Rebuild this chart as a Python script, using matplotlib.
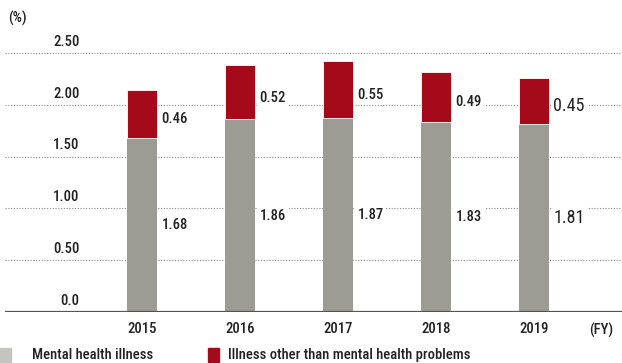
import matplotlib
matplotlib.use("Agg")
from matplotlib import pyplot as plt
from matplotlib.patches import Rectangle

years = ["2015", "2016", "2017", "2018", "2019"]
mental = [1.68, 1.86, 1.87, 1.83, 1.81]
other = [0.46, 0.52, 0.55, 0.49, 0.45]
yticks = [0.0, 0.5, 1.0, 1.5, 2.0, 2.5]
ytick_labels = ["0.0", "0.50", "1.00", "1.50", "2.00", "2.50"]

GRAY = "#9c9c95"
RED = "#a50a1b"
TXT = "#222222"

plt.rcParams['font.family'] = ['Roboto Condensed', 'DejaVu Sans Condensed',
                               'Liberation Sans Narrow', 'Open Sans Condensed', 'Roboto']
plt.rcParams['font.stretch'] = 'condensed'

fig = plt.figure(figsize=(6.22, 3.63), dpi=100)
ax = fig.add_axes([5 / 622, 51 / 363, 617 / 622, 259 / 363])

x = list(range(len(years)))
ax.bar(x, mental, width=0.3, color=GRAY, zorder=3)
ax.bar(x, other, width=0.3, bottom=mental, color=RED, zorder=3,
       edgecolor="white", linewidth=0.6)

ax.set_xlim(-1.40, 4.9)
ax.set_ylim(0, 2.5)

# dotted grid + y labels sitting above the lines
for v, lab in zip(yticks, ytick_labels):
    if v > 0:
        ax.axhline(v, color="#8a8a8a", linestyle=(0, (1, 1.5)), linewidth=0.8, zorder=1)
    ax.text(0.121, v + 0.04, lab, transform=ax.get_yaxis_transform(),
            ha="right", va="bottom", fontsize=10.5, color=TXT, fontweight="medium")
ax.axhline(0, color="#555555", linewidth=1.6, zorder=4)

# value labels (last year drawn larger, as in the original)
for i in x:
    fs = 13 if i == 4 else 10.5
    fw = "normal" if i == 4 else "medium"
    ax.text(i + 0.2, mental[i] / 2, f"{mental[i]:.2f}", ha="left", va="center",
            fontsize=fs, color=TXT, zorder=5, fontweight=fw,
            bbox=dict(facecolor="white", edgecolor="none", pad=2))
    ax.text(i + 0.2, mental[i] + other[i] / 2 - 0.05, f"{other[i]:.2f}", ha="left", va="center",
            fontsize=fs, color=TXT, zorder=5, fontweight=fw,
            bbox=dict(facecolor="white", edgecolor="none", pad=2))

for s in ax.spines.values():
    s.set_visible(False)
ax.set_xticks([])
ax.set_yticks([])

for i, y in zip(x, years):
    ax.text(i, -0.1, y, ha="center", va="top", fontsize=10.5, color=TXT, fontweight="medium")
ax.text(4.69, -0.1, "(FY)", ha="center", va="top", fontsize=10.5, color=TXT, fontweight="medium")

fig.text(8 / 622, 1 - 18 / 363, "(%)", ha="left", va="center", fontsize=10.5, color=TXT,
         fontweight="medium")

# legend
fig.patches.append(Rectangle((0, 1 - 362 / 363), 11 / 622, 14 / 363,
                             transform=fig.transFigure, color="#c5c5bf"))
fig.text(32 / 622, 1 - 355 / 363, "Mental health illness", ha="left", va="center",
         fontsize=10.5, color=TXT, fontweight="medium")
fig.patches.append(Rectangle((208 / 622, 1 - 362 / 363), 11 / 622, 14 / 363,
                             transform=fig.transFigure, color=RED))
fig.text(228 / 622, 1 - 355 / 363, "Illness other than mental health problems", ha="left",
         va="center", fontsize=10.5, color=TXT, fontweight="medium")

fig.savefig("out.png", dpi=100)
